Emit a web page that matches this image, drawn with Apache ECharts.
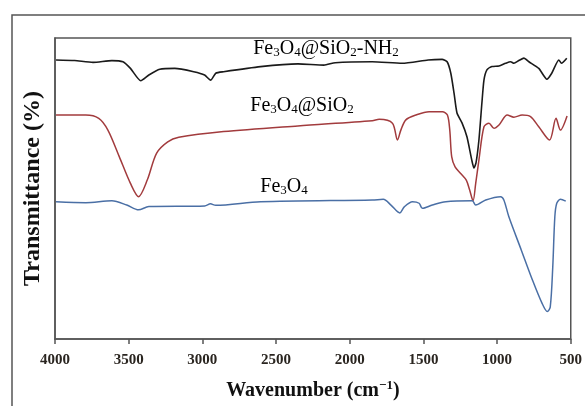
<!DOCTYPE html>
<html>
<head>
<meta charset="utf-8">
<script src="https://cdn.jsdelivr.net/npm/echarts@6/dist/echarts.min.js"></script>
<style>html,body{margin:0;padding:0;background:#fff;}#c{width:585px;height:406px;}</style>
</head>
<body>
<div id="c"></div>
<script>
// Wavenumber (cm-1) / transmittance (arbitrary %, offset traces)
const nh2Wn = [3993,3867,3742,3614,3539,3488,3418,3363,3289,3187,3059,2985,2944,2909,2856,2605,2351,2175,2098,1847,1644,1468,1373,1339,1314,1292,1272,1238,1204,1172,1157,1143,1123,1103,1089,1069,1035,987,942,908,886,852,818,784,717,662,629,581,563,527];
const nh2T  = [92.7,92.5,91.9,92.5,92.1,89.9,85.8,87.7,89.6,89.9,88.8,87.7,86.0,88.3,88.8,90.5,91.4,91.0,91.8,92.1,91.6,92.7,92.9,92.1,88.3,81.7,75.1,71.8,67.1,59.5,56.8,58.5,66.2,78.4,86.0,89.4,90.5,90.7,91.6,92.1,91.6,92.5,93.3,92.1,89.9,86.3,88.3,92.7,91.6,93.3];

const sioWn = [3993,3791,3703,3641,3564,3488,3433,3374,3311,3235,3160,2856,2352,1847,1800,1710,1676,1653,1619,1551,1461,1371,1337,1321,1308,1285,1247,1209,1186,1163,1145,1123,1089,1055,1021,987,931,886,830,773,717,644,600,570,525];
const sioT  = [74.4,74.4,73.3,69.4,60.6,51.7,47.3,52.8,61.7,65.5,67.0,68.9,70.8,72.5,73.0,71.7,66.1,69.4,72.8,74.4,75.5,75.5,74.4,69.4,60.6,57.2,55.0,52.8,49.5,45.9,51.7,59.5,70.5,71.7,70.0,71.1,74.4,73.7,74.4,73.9,70.5,66.1,73.3,69.4,74.1];

const feWn = [3993,3791,3614,3513,3433,3363,2984,2945,2909,2605,1847,1772,1720,1660,1630,1574,1529,1507,1439,1348,1168,1145,1077,976,954,920,836,760,696,659,639,622,608,595,570,534];
const feT  = [45.6,45.3,45.9,44.5,42.9,44.0,44.2,44.9,44.4,45.6,46.2,46.4,44.5,41.9,43.9,45.6,45.1,43.4,44.5,45.6,45.9,44.5,46.2,47.3,46.2,40.6,29.6,19.6,12.0,9.1,10.7,24.0,40.6,45.1,46.4,45.8];

const xTicks = [500,1000,1500,2000,2500,3000,3500,4000];
const seriesNames = ['Fe3O4@SiO2-NH2','Fe3O4@SiO2','Fe3O4'];

const pairs = (xs, ys) => xs.map((x, i) => [x, ys[i]]);
const serif = 'Liberation Serif, Times New Roman, serif';

const chart = echarts.init(document.getElementById('c'), null, {renderer: 'canvas'});

const richSub = {
  n: {fontFamily: serif, fontSize: 20, color: '#222', lineHeight: 22, verticalAlign: 'bottom'},
  s: {fontFamily: serif, fontSize: 13, color: '#222', lineHeight: 22, verticalAlign: 'bottom'}
};

chart.setOption({
  animation: false,
  backgroundColor: '#fff',
  grid: {left: 55, right: 13, top: 38, bottom: 67, show: true, borderColor: '#555', borderWidth: 1.5, containLabel: false},
  xAxis: {
    type: 'value', inverse: true, min: 500, max: 4000, interval: 500,
    axisLine: {show: true, lineStyle: {color: '#555', width: 1.5}},
    axisTick: {show: true, inside: false, length: 5, lineStyle: {color: '#555', width: 1.5}},
    axisLabel: {
      fontFamily: serif, fontWeight: 'bold', fontSize: 15, color: '#2a2520', margin: 14,
      formatter: v => xTicks.includes(v) ? String(v) : ''
    },
    splitLine: {show: false},
    name: '{a|Wavenumber (cm}{b|−1}{a|)}',
    nameLocation: 'middle', nameGap: 40,
    nameTextStyle: {
      rich: {
        a: {fontFamily: serif, fontWeight: 'bold', fontSize: 20, color: '#111', lineHeight: 22, verticalAlign: 'bottom'},
        b: {fontFamily: serif, fontWeight: 'bold', fontSize: 13, color: '#111', lineHeight: 22, verticalAlign: 'top'}
      }
    }
  },
  yAxis: {
    type: 'value', min: 0, max: 100,
    axisLine: {show: true, lineStyle: {color: '#555', width: 1.5}},
    axisTick: {show: false}, axisLabel: {show: false}, splitLine: {show: false},
    name: 'Transmittance (%)', nameLocation: 'middle', nameGap: 10, nameRotate: 90,
    nameTextStyle: {fontFamily: serif, fontWeight: 'bold', fontSize: 24, color: '#111'}
  },
  series: [
    {name: seriesNames[0], type: 'line', data: pairs(nh2Wn, nh2T), showSymbol: false, smooth: 0.2,
     lineStyle: {color: '#1a1a1a', width: 1.6}},
    {name: seriesNames[1], type: 'line', data: pairs(sioWn, sioT), showSymbol: false, smooth: 0.3,
     lineStyle: {color: '#a23b3d', width: 1.5}},
    {name: seriesNames[2], type: 'line', data: pairs(feWn, feT), showSymbol: false, smooth: 0.3,
     lineStyle: {color: '#4a6fa5', width: 1.5}}
  ],
  graphic: [
    {type: 'rect', shape: {x: 12, y: 15, width: 620, height: 430}, style: {fill: null, stroke: '#555', lineWidth: 1.5}, silent: true, z: 100},
    {type: 'text', x: 326, y: 48, style: {text: '{n|Fe}{s|3}{n|O}{s|4}{n|@SiO}{s|2}{n|-NH}{s|2}', rich: richSub, align: 'center', verticalAlign: 'middle'}, z: 100},
    {type: 'text', x: 302, y: 105, style: {text: '{n|Fe}{s|3}{n|O}{s|4}{n|@SiO}{s|2}', rich: richSub, align: 'center', verticalAlign: 'middle'}, z: 100},
    {type: 'text', x: 284, y: 186, style: {text: '{n|Fe}{s|3}{n|O}{s|4}', rich: richSub, align: 'center', verticalAlign: 'middle'}, z: 100}
  ]
});
</script>
</body>
</html>
